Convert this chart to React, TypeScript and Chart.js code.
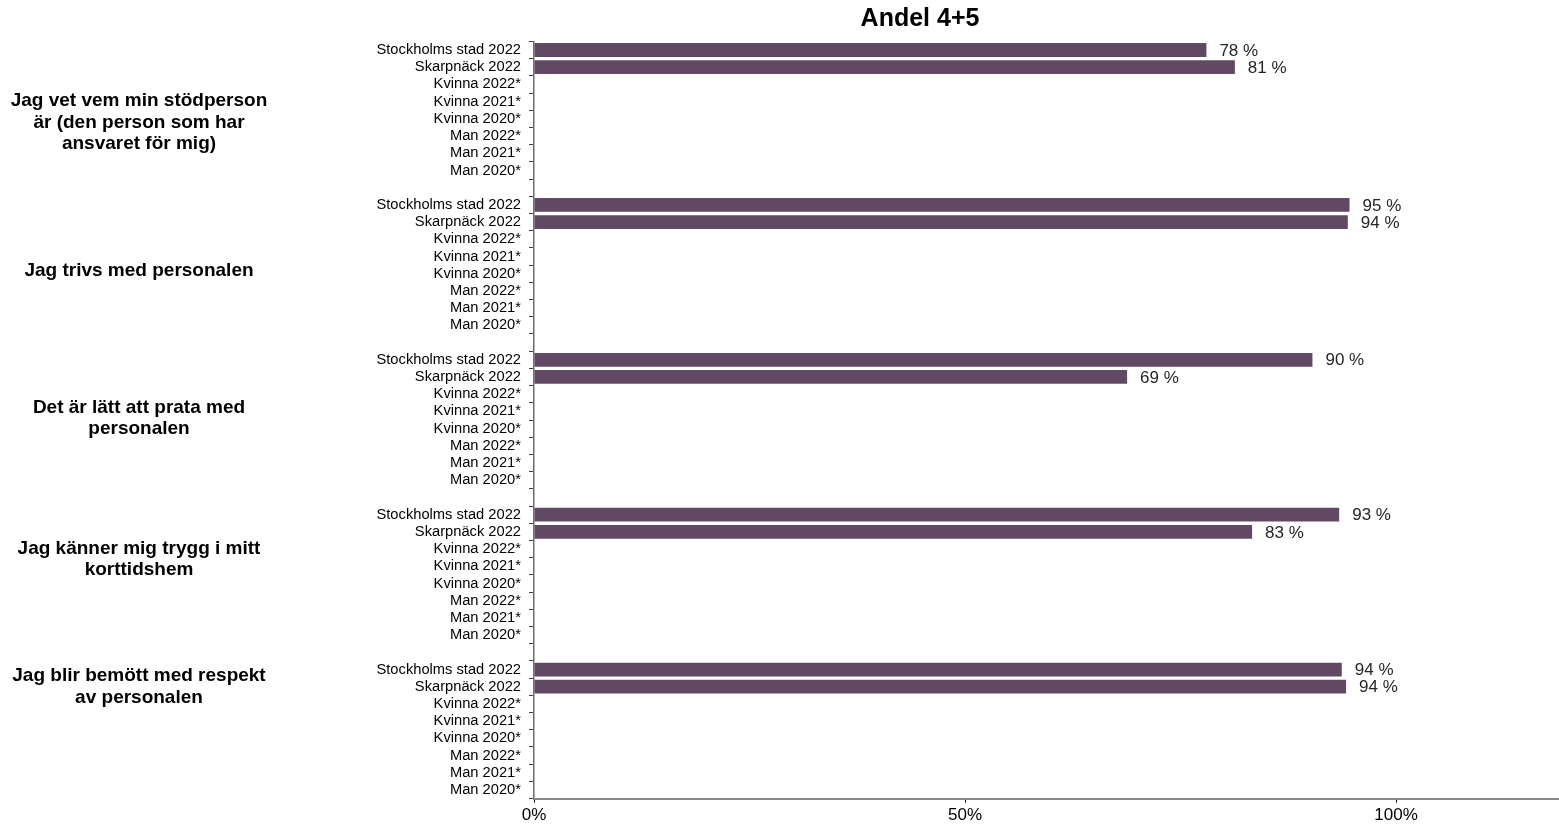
import React, { useEffect, useRef } from "react";
import { Chart, registerables } from "chart.js";

Chart.register(...registerables);

const chartTitle = "Andel 4+5";
const rowLabels = [
  "Stockholms stad 2022",
  "Skarpnäck 2022",
  "Kvinna 2022*",
  "Kvinna 2021*",
  "Kvinna 2020*",
  "Man 2022*",
  "Man 2021*",
  "Man 2020*",
];
const groupLabels = [
  ["Jag vet vem min stödperson", "är (den person som har", "ansvaret för mig)"],
  ["Jag trivs med personalen"],
  ["Det är lätt att prata med", "personalen"],
  ["Jag känner mig trygg i mitt", "korttidshem"],
  ["Jag blir bemött med respekt", "av personalen"],
];
const stockholmValues = [78.0, 94.6, 90.3, 93.4, 93.7];
const skarpnackValues = [81.3, 94.4, 68.8, 83.3, 94.2];
const xTickValues = [0, 50, 100];

const FONT = "'Liberation Sans', Arial, sans-serif";
const BAR_COLOR = "#614863";
// layout anchors (category-index positions) for the group captions
const GROUP_ANCHORS = [4.2, 12.85, 21.4, 29.6, 37.0];

function buildRows() {
  const labels: string[] = [];
  const values: (number | null)[] = [];
  groupLabels.forEach((_, g) => {
    rowLabels.forEach((lab, i) => {
      labels.push(lab);
      if (i === 0) values.push(stockholmValues[g]);
      else if (i === 1) values.push(skarpnackValues[g]);
      else values.push(null);
    });
    if (g < groupLabels.length - 1) {
      labels.push("");
      values.push(null);
    }
  });
  return { labels, values };
}

const annotations = {
  id: "annotations",
  afterDatasetsDraw(chart: any) {
    const ctx = chart.ctx;
    const meta = chart.getDatasetMeta(0);
    const data = chart.data.datasets[0].data;
    ctx.save();
    ctx.font = `17px ${FONT}`;
    ctx.fillStyle = "#262626";
    ctx.textAlign = "left";
    ctx.textBaseline = "middle";
    meta.data.forEach((bar: any, i: number) => {
      const v = data[i];
      if (v === null || v === undefined) return;
      ctx.fillText(`${Math.round(v)} %`, bar.x + 13, bar.y + 1);
    });
    ctx.restore();
  },
  afterDraw(chart: any) {
    const ctx = chart.ctx;
    const y = chart.scales.y;
    ctx.save();
    ctx.fillStyle = "#000";
    ctx.textAlign = "center";
    ctx.textBaseline = "middle";
    ctx.font = `bold 19px ${FONT}`;
    groupLabels.forEach((lines, g) => {
      const cy = y.getPixelForValue(GROUP_ANCHORS[g]);
      const lh = 21.7;
      const start = cy - ((lines.length - 1) * lh) / 2;
      lines.forEach((line, k) => ctx.fillText(line, 139, start + k * lh));
    });
    ctx.font = `bold 25px ${FONT}`;
    ctx.fillText(chartTitle, 920, 19);
    ctx.restore();
  },
};

export default function App() {
  const ref = useRef<HTMLCanvasElement | null>(null);
  useEffect(() => {
    if (!ref.current) return;
    const { labels, values } = buildRows();
    const chart = new Chart(ref.current, {
      type: "bar",
      data: {
        labels,
        datasets: [
          {
            data: values,
            backgroundColor: BAR_COLOR,
            borderWidth: 0,
            barPercentage: 0.8,
            categoryPercentage: 1,
          },
        ],
      },
      options: {
        indexAxis: "y",
        animation: false,
        responsive: false,
        devicePixelRatio: 1,
        layout: { padding: { top: 41.4, left: 0, right: 0, bottom: 0 } },
        plugins: {
          legend: { display: false },
          tooltip: { enabled: false },
          title: { display: false },
        },
        scales: {
          y: {
            type: "category",
            afterFit: (s: any) => {
              s.width = 534;
            },
            grid: {
              display: true,
              drawOnChartArea: false,
              drawTicks: true,
              tickLength: 5,
              color: "#404040",
              offset: true,
            },
            border: { display: true, color: "#6e6e6e", width: 1.5 },
            ticks: {
              autoSkip: false,
              padding: 8,
              color: "#000",
              font: { family: FONT, size: 14.7 },
            },
          },
          x: {
            type: "linear",
            min: 0,
            max: 118.9,
            afterFit: (s: any) => {
              s.height = 30.4;
            },
            afterBuildTicks: (s: any) => {
              s.ticks = xTickValues.map((v) => ({ value: v }));
            },
            grid: {
              display: true,
              drawOnChartArea: false,
              drawTicks: true,
              tickLength: 4,
              color: "#000",
            },
            border: { display: true, color: "#878787", width: 2 },
            ticks: {
              padding: 3,
              color: "#000",
              font: { family: FONT, size: 17 },
              callback: (v: any) => `${v}%`,
            },
          },
        },
      },
      plugins: [annotations],
    });
    return () => chart.destroy();
  }, []);
  return (
    <div style={{ position: "absolute", left: 0, top: 0, width: 1559, height: 829, background: "#fff" }}>
      <canvas ref={ref} width={1559} height={829} />
    </div>
  );
}
